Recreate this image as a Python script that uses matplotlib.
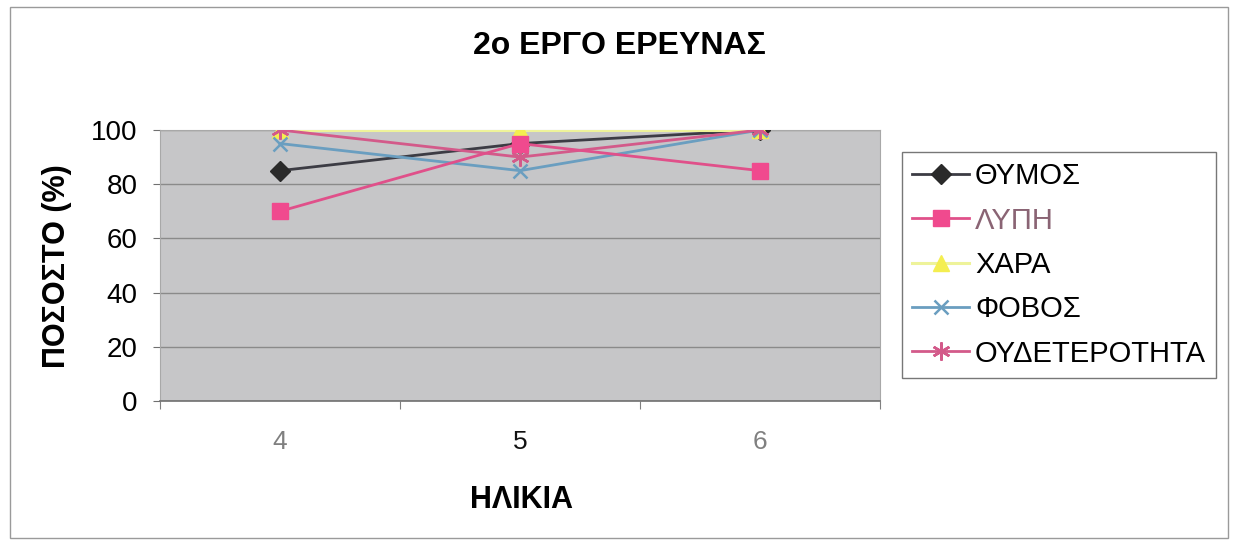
import matplotlib.pyplot as plt
from matplotlib.patches import Rectangle

plt.rcParams['font.family'] = ['Liberation Sans', 'DejaVu Sans']

# Δεδομένα
ilikia = ['4', '5', '6']
thymos = [85, 95, 100]
lypi = [70, 95, 85]
xara = [100, 100, 100]
fovos = [95, 85, 100]
oudeterotita = [100, 90, 100]

x = list(range(len(ilikia)))

fig = plt.figure(figsize=(12.34, 5.44), dpi=100)
ax = fig.add_axes([160 / 1234, 1 - 401 / 544, 720 / 1234, 271 / 544])

# Σειρές
ax.plot(x, thymos, color='#3c3c44', lw=2, marker='D', ms=10, mfc='#2a2a2a', mec='#2a2a2a', label='ΘΥΜΟΣ', zorder=3)
ax.plot(x, xara, color='#eef39a', lw=2.2, marker='^', ms=11, mfc='#f4ee50', mec='#f4ee50', label='ΧΑΡΑ', zorder=3)
ax.plot(x, fovos, color='#6a9ec0', lw=2, marker='x', ms=10, mew=1.8, label='ΦΟΒΟΣ', zorder=3)
ax.plot(x, oudeterotita, color='#d35a8a', lw=2, marker=(6, 2, 0), ms=13, mew=1.8, label='ΟΥΔΕΤΕΡΟΤΗΤΑ', zorder=3)
ax.plot(x, lypi, color='#e0508a', lw=2, marker='s', ms=12, mfc='#f04a8e', mec='#f04a8e', label='ΛΥΠΗ', zorder=4)

# Άξονες
ax.set_facecolor('#c6c6c8')
ax.set_xlim(-0.5, 2.5)
ax.set_ylim(0, 100)
ax.set_yticks([0, 20, 40, 60, 80, 100])
ax.yaxis.grid(True, color='#8a8a8a', lw=1)
ax.set_axisbelow(True)
for side in ['top', 'right', 'left']:
    ax.spines[side].set_color('#a8a8a8')
ax.spines['bottom'].set_color('#707070')
ax.spines['bottom'].set_linewidth(1.2)
ax.tick_params(axis='y', labelsize=20, length=5, pad=11, color='#707070')

ax.set_xticks([-0.5, 0.5, 1.5, 2.5])
ax.set_xticklabels([])
ax.tick_params(axis='x', which='major', length=6, color='#808080')
ax.set_xticks(x, minor=True)
ax.set_xticklabels(ilikia, minor=True)
ax.tick_params(axis='x', which='minor', length=0, pad=21, labelsize=19)
for lbl, c in zip(ax.get_xticklabels(minor=True), ['#808080', '#111111', '#808080']):
    lbl.set_color(c)

# Τίτλοι
fig.text(619 / 1234, 1 - 46 / 544, '2ο ΕΡΓΟ ΕΡΕΥΝΑΣ', ha='center', va='center', fontsize=23, fontweight='bold')
fig.text(522 / 1234, 1 - 500 / 544, 'ΗΛΙΚΙΑ', ha='center', va='center', fontsize=22, fontweight='bold')
fig.text(57 / 1234, 1 - 266 / 544, 'ΠΟΣΟΣΤΟ (%)', ha='center', va='center', rotation=90, fontsize=22, fontweight='bold')

# Υπόμνημα
h, l = ax.get_legend_handles_labels()
order = [0, 4, 1, 2, 3]
leg = ax.legend([h[i] for i in order], [l[i] for i in order],
                loc='upper left', bbox_to_anchor=(902 / 1234, 1 - 152 / 544),
                bbox_transform=fig.transFigure, borderaxespad=0, fontsize=21,
                frameon=True, fancybox=False, edgecolor='#555555',
                handlelength=1.95, labelspacing=0.56, borderpad=0.35, handletextpad=0.2)
leg.get_frame().set_linewidth(1)
leg.get_texts()[1].set_color('#8a6474')

# Πλαίσιο γραφήματος
fig.patches.append(Rectangle((10 / 1234, 6 / 544), 1218 / 1234, 531 / 544,
                             transform=fig.transFigure, fill=False, edgecolor='#9a9a9a', lw=1))

fig.savefig('out.png', dpi=100)
